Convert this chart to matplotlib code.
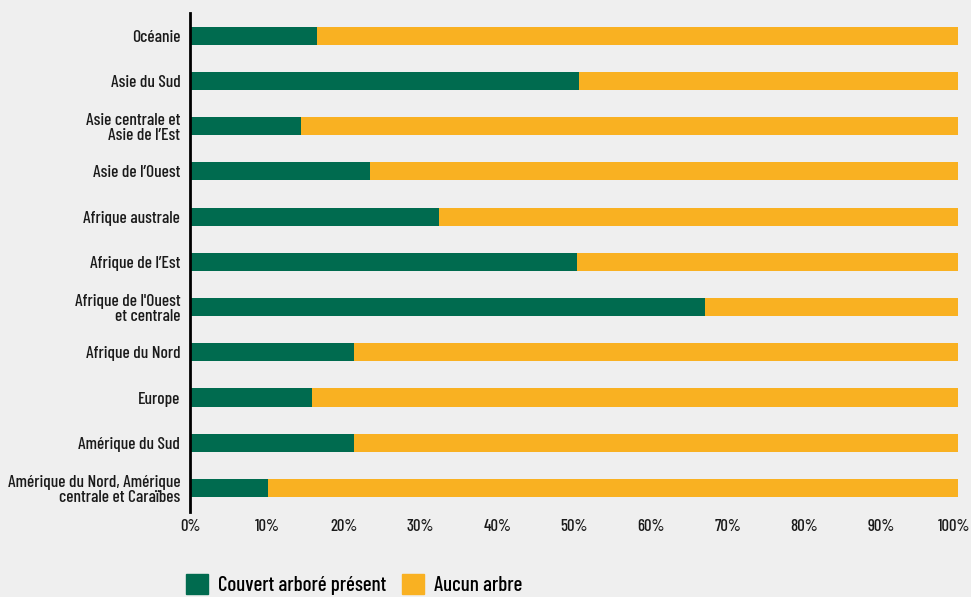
import matplotlib.pyplot as plt
import matplotlib.transforms as mtransforms
from matplotlib.patches import Patch
from matplotlib import font_manager

regions = [
    "Amérique du Nord, Amérique\ncentrale et Caraïbes",
    "Amérique du Sud",
    "Europe",
    "Afrique du Nord",
    "Afrique de l'Ouest\net centrale",
    "Afrique de l’Est",
    "Afrique australe",
    "Asie de l’Ouest",
    "Asie centrale et\nAsie de l’Est",
    "Asie du Sud",
    "Océanie",
]
tree_cover = [10.1, 21.3, 15.9, 21.4, 67.1, 50.4, 32.4, 23.4, 14.4, 50.6, 16.6]
no_tree = [100 - v for v in tree_cover]
xticks = [0, 10, 20, 30, 40, 50, 60, 70, 80, 90, 100]

green = "#006b4f"
orange = "#f9b122"
bg = "#efefef"
textc = "#1a1a1a"

# condensed font if there is one
names = {f.name for f in font_manager.fontManager.ttflist}
fam = [n for n in ["Barlow Condensed", "Roboto Condensed", "Liberation Sans Narrow"] if n in names]
plt.rcParams["font.family"] = fam + ["DejaVu Sans"]
plt.rcParams["font.weight"] = "medium"
if not fam:
    plt.rcParams["font.stretch"] = "condensed"

fig = plt.figure(figsize=(9.71, 5.97), dpi=100, facecolor=bg)
ax = fig.add_axes([190 / 971, 1 - 512 / 597, 768 / 971, 499 / 597])
ax.set_facecolor(bg)

y = list(range(len(regions)))
ax.barh(y, tree_cover, height=0.4, color=green)
ax.barh(y, no_tree, left=tree_cover, height=0.4, color=orange)

ax.set_xlim(0, 100)
ax.set_ylim(-0.53, 10.5)
ax.set_yticks(y)
ax.set_yticklabels(regions, fontsize=12.5, color=textc, linespacing=1.05)
ax.set_xticks(xticks)
ax.set_xticklabels([f"{t}%" for t in xticks], fontsize=12, color=textc)
ax.tick_params(axis="x", length=0, pad=5)
ax.tick_params(axis="y", length=0, pad=7)

# nudge "100%" so it stays inside the figure
last = ax.get_xticklabels()[-1]
last.set_transform(last.get_transform() + mtransforms.ScaledTranslation(-4 / 100, 0, fig.dpi_scale_trans))

for s in ["top", "right", "bottom"]:
    ax.spines[s].set_visible(False)
ax.spines["left"].set_linewidth(2)
ax.spines["left"].set_color("black")

handles = [Patch(color=green, label="Couvert arboré présent"),
           Patch(color=orange, label="Aucun arbre")]
fig.legend(handles=handles, loc="lower left", bbox_to_anchor=(186 / 971, 2 / 597),
           ncol=2, frameon=False, fontsize=15, handlelength=1.05, handleheight=1.05,
           handletextpad=0.5, columnspacing=0.75, borderpad=0, borderaxespad=0)

fig.savefig("out.png", dpi=100, facecolor=bg)
